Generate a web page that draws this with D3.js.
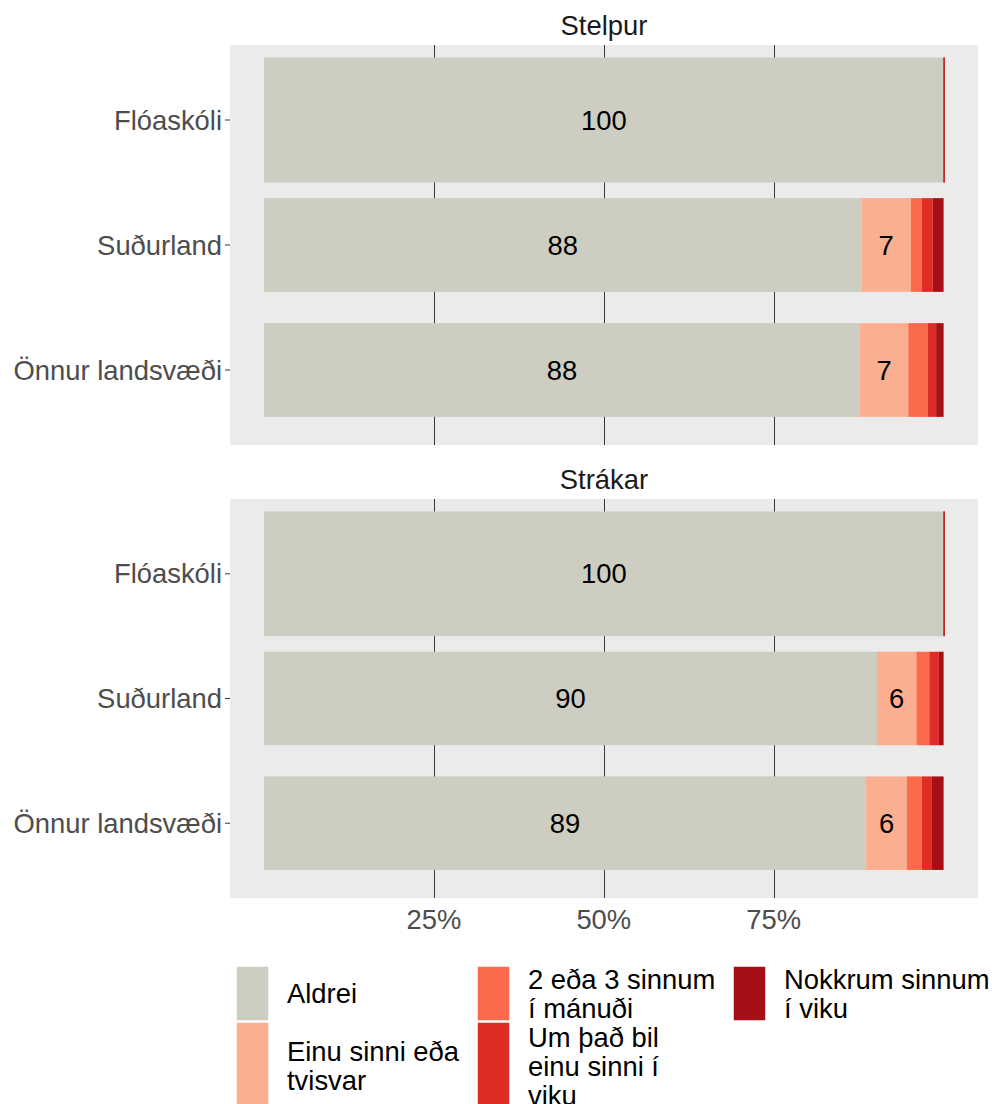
<!DOCTYPE html>
<html>
<head>
<meta charset="utf-8">
<script src="https://cdn.jsdelivr.net/npm/d3@7"></script>
<style>
  html, body { margin: 0; padding: 0; background: #ffffff; }
  text { font-family: "Liberation Sans", Arial, Helvetica, sans-serif; }
</style>
</head>
<body>
<svg id="chart" width="992" height="1104"></svg>
<script>
// ---------------- DATA ----------------
const categories = [
  "Aldrei",
  "Einu sinni eða tvisvar",
  "2 eða 3 sinnum í mánuði",
  "Um það bil einu sinni í viku",
  "Nokkrum sinnum í viku"
];
const legendLines = [
  ["Aldrei"],
  ["Einu sinni eða", "tvisvar"],
  ["2 eða 3 sinnum", "í mánuði"],
  ["Um það bil", "einu sinni í", "viku"],
  ["Nokkrum sinnum", "í viku"]
];
const regions = ["Flóaskóli", "Suðurland", "Önnur landsvæði"];
const groups = ["Stelpur", "Strákar"];
// percentages per region, in category order
const stelpurValues = [
  [100, 0, 0, 0, 0],
  [87.9, 7.3, 1.6, 1.6, 1.6],
  [87.7, 7.1, 2.9, 1.2, 1.1]
];
const strakarValues = [
  [100, 0, 0, 0, 0],
  [90.2, 5.8, 1.9, 1.4, 0.7],
  [88.6, 6.0, 2.2, 1.4, 1.8]
];
const xTicks = [25, 50, 75];
const xTickLabels = ["25%", "50%", "75%"];
const colors = ["#CDCDC1", "#FCAE91", "#FB6A4A", "#DE2D26", "#A50F15"];

// ---------------- LAYOUT ----------------
const svg = d3.select("#chart");
const FS = 27.4;
const panelLeft = 230, panelRight = 978;
const panels = [
  { top: 45, bottom: 445, title: groups[0], values: stelpurValues },
  { top: 499, bottom: 898, title: groups[1], values: strakarValues }
];
const barRel = [1.0, 0.75, 0.75];

const x = d3.scaleLinear().domain([0, 100]).range([264, 943.6]);

panels.forEach((p, pi) => {
  const g = svg.append("g");
  g.append("rect")
    .attr("x", panelLeft).attr("y", p.top)
    .attr("width", panelRight - panelLeft).attr("height", p.bottom - p.top)
    .attr("fill", "#EBEBEB");

  // strip title
  svg.append("text")
    .attr("x", (panelLeft + panelRight) / 2)
    .attr("y", p.top - 20)
    .attr("text-anchor", "middle")
    .attr("dominant-baseline", "central")
    .attr("font-size", FS)
    .attr("fill", "#1A1A1A")
    .text(p.title);

  // discrete scale (ggplot-like expansion 0.6)
  const unit = (p.bottom - p.top) / (regions.length - 1 + 1.2);
  const y = d3.scalePoint().domain(regions)
    .range([p.top + 0.6 * unit, p.bottom - 0.6 * unit]);

  // gridlines
  g.selectAll("line.grid").data(xTicks).enter().append("line")
    .attr("x1", d => Math.round(x(d)) + 0.5).attr("x2", d => Math.round(x(d)) + 0.5)
    .attr("y1", p.top).attr("y2", p.bottom)
    .attr("stroke", "#3a3a3a").attr("stroke-width", 1);

  // bars
  regions.forEach((r, ri) => {
    const vals = p.values[ri];
    const h = barRel[ri] * unit;
    const yc = y(r);
    let cum = 0;
    const segs = vals.map((v, ci) => {
      const s = { x0: cum, x1: cum + v, v, ci };
      cum += v;
      return s;
    });
    g.selectAll(null).data(segs).enter().append("rect")
      .attr("x", d => x(d.x0))
      .attr("y", yc - h / 2)
      .attr("width", d => Math.max(x(d.x1) - x(d.x0), 1))
      .attr("height", h)
      .attr("fill", d => colors[d.ci]);
    g.selectAll(null).data(segs.filter(d => d.v >= 5)).enter().append("text")
      .attr("x", d => (x(d.x0) + x(d.x1)) / 2)
      .attr("y", yc)
      .attr("text-anchor", "middle")
      .attr("dominant-baseline", "central")
      .attr("font-size", FS)
      .attr("fill", "#000")
      .text(d => Math.round(d.v));
  });

  // y axis labels + ticks
  regions.forEach(r => {
    const yc = y(r);
    svg.append("line")
      .attr("x1", panelLeft - 5).attr("x2", panelLeft)
      .attr("y1", yc).attr("y2", yc)
      .attr("stroke", "#333").attr("stroke-width", 1);
    svg.append("text")
      .attr("x", panelLeft - 8)
      .attr("y", yc)
      .attr("text-anchor", "end")
      .attr("dominant-baseline", "central")
      .attr("font-size", FS)
      .attr("fill", "#4D4D4D")
      .text(r);
  });

  // x axis labels on bottom panel only
  if (pi === panels.length - 1) {
    svg.selectAll(null).data(xTicks).enter().append("text")
      .attr("x", d => x(d))
      .attr("y", p.bottom + 21)
      .attr("text-anchor", "middle")
      .attr("dominant-baseline", "central")
      .attr("font-size", FS)
      .attr("fill", "#4D4D4D")
      .text((d, i) => xTickLabels[i]);
  }
});

// ---------------- LEGEND ----------------
const colX = [236, 477, 733];
const rowY = [{ y: 966, h: 55 }, { y: 1022, h: 88 }];
const lineH = 29;
categories.forEach((c, i) => {
  const col = Math.floor(i / 2), row = i % 2;
  const kx = colX[col], ky = rowY[row].y, kh = rowY[row].h;
  svg.append("rect")
    .attr("x", kx).attr("y", ky)
    .attr("width", 33).attr("height", kh)
    .attr("fill", colors[i])
    .attr("stroke", "#ffffff").attr("stroke-width", 1.5);
  const lines = legendLines[i];
  const cy = ky + kh / 2;
  const t = svg.append("text")
    .attr("x", kx + 51)
    .attr("font-size", FS)
    .attr("fill", "#000");
  lines.forEach((ln, li) => {
    t.append("tspan")
      .attr("x", kx + 51)
      .attr("y", cy + (li - (lines.length - 1) / 2) * lineH)
      .attr("dominant-baseline", "central")
      .text(ln);
  });
});
</script>
</body>
</html>
